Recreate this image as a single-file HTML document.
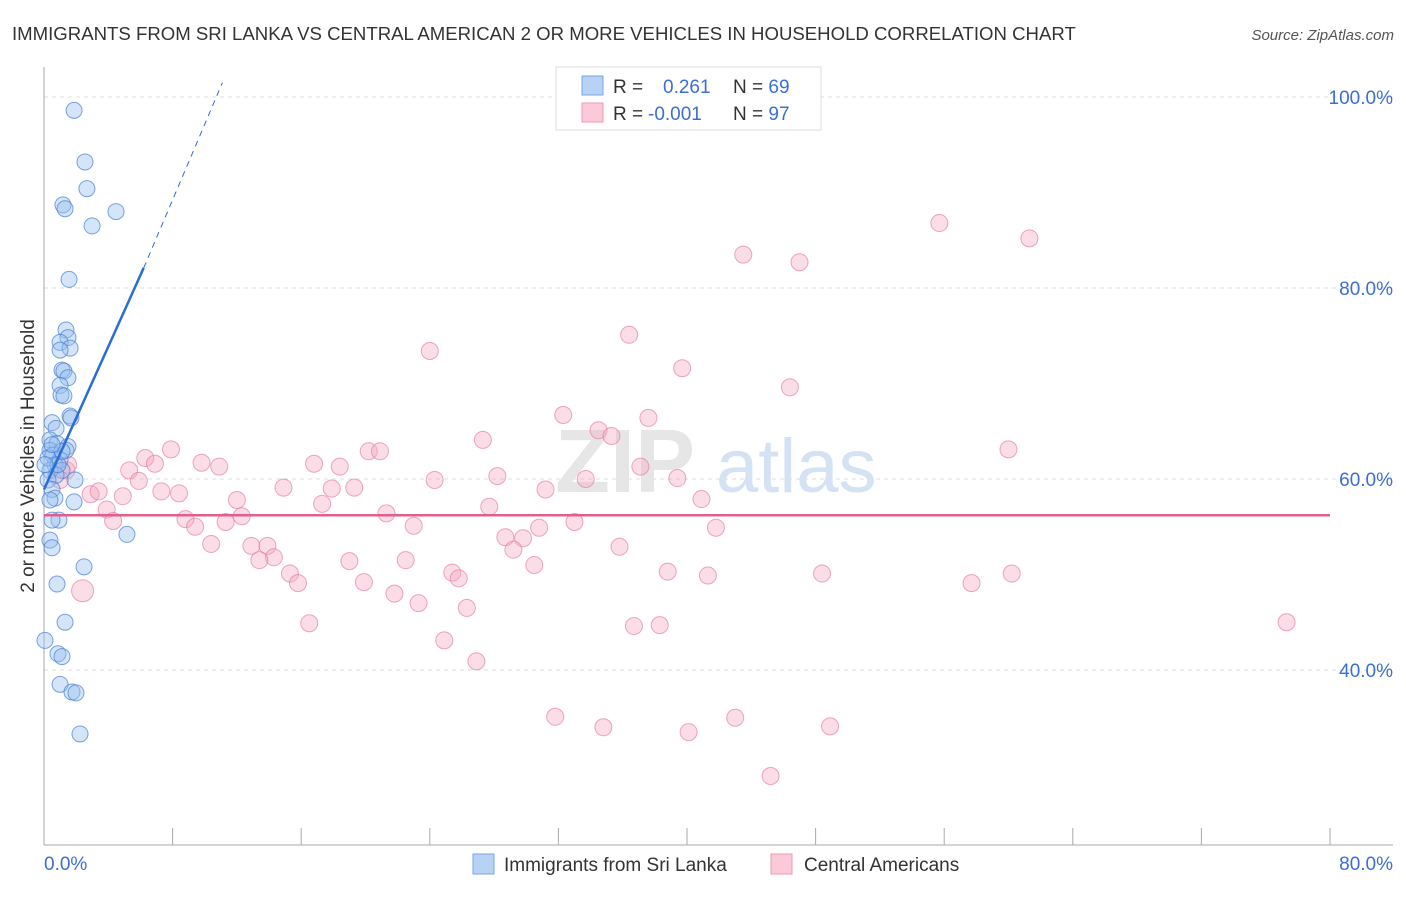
<!DOCTYPE html>
<html><head><meta charset="utf-8"><style>
body{margin:0;background:#fff;font-family:"Liberation Sans",sans-serif;}
svg text{font-family:"Liberation Sans",sans-serif;}
</style></head><body>
<svg id="chart" width="1406" height="892" xmlns="http://www.w3.org/2000/svg">
<text x="12" y="40" font-size="18.6" fill="#333">IMMIGRANTS FROM SRI LANKA VS CENTRAL AMERICAN 2 OR MORE VEHICLES IN HOUSEHOLD CORRELATION CHART</text>
<text x="1394" y="40" font-size="15" fill="#555" font-style="italic" text-anchor="end">Source: ZipAtlas.com</text>
<text x="34" y="456" font-size="19" fill="#333" text-anchor="middle" transform="rotate(-90 34 456)">2 or more Vehicles in Household</text>
<g id="grid"></g>
<g id="axes"></g>
<text x="555" y="492" font-size="90" fill="#e6e6e6" font-weight="bold" font-family="Liberation Serif">ZIP</text>
<text x="716" y="492" font-size="76" fill="#d4e2f4">atlas</text>
<g id="pink"></g>
<g id="blue"></g>
<g id="trends"></g>
<g>
<rect x="556" y="67" width="265" height="63" fill="#fff" stroke="#ddd"/>
<rect x="582" y="76" width="21" height="19" fill="#b7d2f5" stroke="#7aa6e0"/>
<rect x="582" y="103" width="21" height="19" fill="#fbc9d7" stroke="#ee9ab5"/>
<text x="613" y="93" font-size="19" fill="#333">R = <tspan x="663" fill="#3b6fd4">0.261</tspan></text>
<text x="733" y="93" font-size="19" fill="#333">N = <tspan fill="#3b6fd4">69</tspan></text>
<text x="613" y="120" font-size="19" fill="#333">R = <tspan x="648" fill="#3b6fd4">-0.001</tspan></text>
<text x="733" y="120" font-size="19" fill="#333">N = <tspan fill="#3b6fd4">97</tspan></text>
</g>
<g>
<rect x="473" y="854" width="21" height="20" fill="#b7d2f5" stroke="#7aa6e0"/>
<text x="504" y="871" font-size="19" fill="#333">Immigrants from Sri Lanka</text>
<rect x="771" y="854" width="21" height="20" fill="#fbc9d7" stroke="#ee9ab5"/>
<text x="804" y="871" font-size="19" fill="#333">Central Americans</text>
</g>
</svg>
<script>
const yTicks=[40,60,80,100];
const yTickLabels=["40.0%","60.0%","80.0%","100.0%"];
const xTickVals=[0,8,16,24,32,40,48,56,64,72,80];
const xEdgeLabels=["0.0%","80.0%"];
const blueX=[1.87,2.55,2.67,1.18,1.31,4.48,2.99,1.56,1.37,1.49,1.0,1.62,1.0,1.12,1.24,1.49,1.0,1.06,1.24,1.62,1.68,0.5,0.75,0.37,0.81,1.49,1.37,0.37,0.56,1.0,0.68,1.12,0.37,0.75,1.93,0.25,0.5,0.68,1.87,0.37,0.93,0.5,5.16,0.37,0.5,2.49,0.81,1.31,0.06,0.87,1.12,1.0,1.74,1.99,2.24,0.25,0.87,0.06,1.12,0.5];
const blueY=[98.6,93.2,90.4,88.7,88.3,88.0,86.5,80.9,75.6,74.8,74.3,73.7,73.5,71.4,71.3,70.6,69.8,68.8,68.7,66.6,66.4,65.9,65.3,64.1,63.7,63.4,63.0,63.0,62.5,62.0,61.5,60.9,60.9,60.4,59.9,59.9,58.9,58.0,57.6,57.8,55.7,55.7,54.2,53.6,52.8,50.8,49.0,45.0,43.1,41.7,41.4,38.5,37.7,37.6,33.3,62.2,61.5,61.5,62.9,63.6];
const pinkX=[55.7,61.3,43.5,47.0,36.4,24.0,39.7,46.4,32.3,37.6,34.5,35.3,27.3,7.9,20.2,20.9,60.0,6.3,6.9,9.8,10.9,37.1,16.8,18.4,5.3,1.4,28.2,24.3,33.7,39.4,5.9,14.9,7.3,8.4,19.3,17.9,31.2,2.9,4.9,12.0,40.9,17.3,27.7,3.9,12.3,21.3,33.0,8.8,4.3,9.4,11.3,23.0,30.8,41.8,28.7,29.8,10.4,12.9,13.9,35.8,29.2,14.3,13.4,22.5,19.0,30.5,25.4,15.3,38.8,41.3,48.4,25.8,15.8,19.9,57.7,60.2,21.8,23.3,26.3,2.4,16.5,36.7,38.3,77.3,24.9,26.9,31.8,34.8,43.0,40.1,48.9,45.2,3.4,1.5,1.0];
const pinkY=[86.8,85.2,83.5,82.7,75.1,73.4,71.6,69.6,66.7,66.4,65.1,64.5,64.1,63.1,62.9,62.9,63.1,62.2,61.6,61.7,61.3,61.3,61.6,61.3,60.9,60.9,60.3,59.9,60.0,60.1,59.8,59.1,58.7,58.5,59.1,59.0,58.9,58.4,58.2,57.8,57.9,57.4,57.1,56.8,56.1,56.4,55.5,55.8,55.6,55.0,55.5,55.1,54.9,54.9,53.9,53.8,53.2,53.0,53.0,52.9,52.6,51.8,51.5,51.5,51.4,51.0,50.2,50.1,50.3,49.9,50.1,49.6,49.1,49.2,49.1,50.1,48.0,47.0,46.5,48.3,44.9,44.6,44.7,45.0,43.1,40.9,35.1,34.0,35.0,33.5,34.1,28.9,58.7,61.5,59.9];
const blueTrend=[0,58.9,6.2,82.1,11.1,101.5];
const pinkTrend=[0,56.2,80,56.2];

const NS="http://www.w3.org/2000/svg";
const X=v=>44+v*(1286/80);
const Y=v=>97+(100-v)*9.55;
function mk(tag,attrs,parent){const e=document.createElementNS(NS,tag);for(const k in attrs)e.setAttribute(k,attrs[k]);parent.appendChild(e);return e;}
const grid=document.getElementById('grid'),axes=document.getElementById('axes');
yTicks.forEach((t,i)=>{
  const l=mk('line',{x1:44,x2:1393,y1:Y(t),y2:Y(t),stroke:'#ddd','stroke-dasharray':'4,4'},grid);
  
  
  const tx=mk('text',{x:1393,y:Y(t)+7,'font-size':19,fill:'#3b6fd4','text-anchor':'end'},axes);
  tx.textContent=yTickLabels[i];
  
  
});
const ya=mk('line',{x1:44,x2:44,y1:67,y2:845,stroke:'#aaa'},axes);


const xa=mk('line',{x1:44,x2:1393,y1:845,y2:845,stroke:'#aaa'},axes);


xTickVals.forEach(t=>{
  const l=mk('line',{x1:X(t),x2:X(t),y1:828,y2:845,stroke:'#aaa'},axes);
  
  
});
const xl0=mk('text',{x:44,y:870,'font-size':19,fill:'#3b6fd4'},axes);
xl0.textContent=xEdgeLabels[0];


const xl1=mk('text',{x:1393,y:870,'font-size':19,fill:'#3b6fd4','text-anchor':'end'},axes);
xl1.textContent=xEdgeLabels[1];


const pg=document.getElementById('pink');
pinkX.forEach((x,i)=>{
  const c=mk('circle',{cx:X(x),cy:Y(pinkY[i]),r:(i==79?11:8.5),fill:'rgba(244,170,195,0.4)',stroke:'rgba(230,120,160,0.65)','stroke-width':1},pg);
  
  
});
const bg=document.getElementById('blue');
blueX.forEach((x,i)=>{
  const c=mk('circle',{cx:X(x),cy:Y(blueY[i]),r:8,fill:'rgba(150,190,240,0.4)',stroke:'rgba(70,125,210,0.7)','stroke-width':1},bg);
  
  
});
const tg=document.getElementById('trends');
const bt=mk('line',{x1:X(blueTrend[0]),y1:Y(blueTrend[1]),x2:X(blueTrend[2]),y2:Y(blueTrend[3]),stroke:'#2a6dd9','stroke-width':2.5},tg);


const bd=mk('line',{x1:X(blueTrend[2]),y1:Y(blueTrend[3]),x2:X(blueTrend[4]),y2:Y(blueTrend[5]),stroke:'#2a6dd9','stroke-width':1,'stroke-dasharray':'6,5'},tg);


const pt=mk('line',{x1:X(pinkTrend[0]),y1:Y(pinkTrend[1]),x2:X(pinkTrend[2]),y2:Y(pinkTrend[3]),stroke:'#e0608a','stroke-width':2.5},tg);


</script>
</body></html>
